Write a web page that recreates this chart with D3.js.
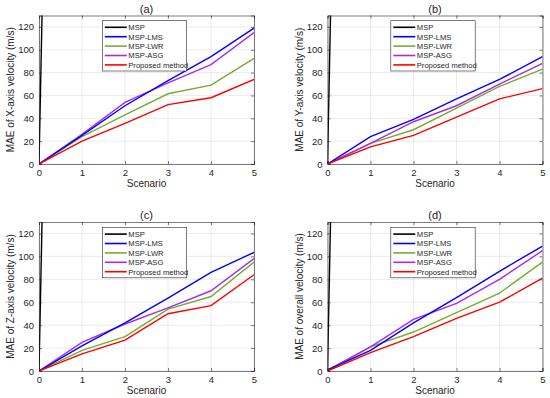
<!DOCTYPE html>
<html>
<head>
<meta charset="utf-8">
<script src="https://cdn.jsdelivr.net/npm/d3@7"></script>
<style>
  body { margin: 0; background: #fff; }
  text { font-family: "Liberation Sans", Arial, sans-serif; fill: #262626; }
</style>
</head>
<body>
<script>
// chart values
const scenarios = [0, 1, 2, 3, 4, 5]
const methods = ["MSP", "MSP-LMS", "MSP-LWR", "MSP-ASG", "Proposed method"]
const colors = ["#000000", "#0000ff", "#77ac30", "#a62cf0", "#ff0000"]
const yTicks = [0, 20, 40, 60, 80, 100, 120]
const titles = ["(a)", "(b)", "(c)", "(d)"]
const yLabels = [
    "MAE of X-axis velocity (m/s)",
    "MAE of Y-axis velocity (m/s)",
    "MAE of Z-axis velocity (m/s)",
    "MAE of overall velocity (m/s)"
]

// MSP shoots off the top right after scenario 0
const mspX = [0, 1850, 3700, 5500, 7400, 9200]
const lmsX = [0, 25, 51, 73, 94, 119]
const lwrX = [0, 24, 43, 61.5, 69, 92.5]
const asgX = [0, 26, 54, 71, 87, 115]
const propX = [0, 20, 35.5, 52, 58, 74]

const mspY = [0, 1850, 3700, 5500, 7400, 9200]
const lmsY = [0, 24, 39, 57, 74, 94]
const lwrY = [0, 18, 30, 49, 68, 83]
const asgY = [0, 18, 37, 51, 70, 88]
const propY = [0, 15, 25, 41, 57, 66]

const mspZ = [0, 1850, 3700, 5500, 7400, 9200]
const lmsZ = [0, 22, 42, 63.5, 86, 103.5]
const lwrZ = [0, 18, 30, 54, 65, 95]
const asgZ = [0, 25, 41, 55, 70, 98]
const propZ = [0, 15, 27, 50, 57, 84]

const mspO = [1, 1850, 3700, 5500, 7400, 9200]
const lmsO = [1, 18, 42, 64, 87, 109]
const lwrO = [0.5, 21, 34, 51, 68, 95]
const asgO = [0.5, 21, 45, 59, 80, 105]
const propO = [0, 16, 30, 46, 60, 81]

const panelsData = [
    [mspX, lmsX, lwrX, asgX, propX],
    [mspY, lmsY, lwrY, asgY, propY],
    [mspZ, lmsZ, lwrZ, asgZ, propZ],
    [mspO, lmsO, lwrO, asgO, propO]
]

// layout
const boxes = [
    {x: 39, y: 15.5, w: 215, h: 148.5, legX: 102.3, legY: 20.7},
    {x: 327.5, y: 15.5, w: 215, h: 148.5, legX: 390.8, legY: 20.7},
    {x: 39, y: 222, w: 215, h: 149, legX: 102.3, legY: 227.5},
    {x: 327.5, y: 222, w: 215, h: 149, legX: 390.8, legY: 227.5}
]

const svg = d3.select("body").append("svg")
    .attr("width", 550)
    .attr("height", 398)

boxes.forEach((b, i) => {
    const g = svg.append("g").attr("transform", `translate(${b.x},${b.y})`)

    const x = d3.scaleLinear().domain([0, 5]).range([0, b.w])
    const y = d3.scaleLinear().domain([0, 130]).range([b.h, 0])

    g.append("rect")
        .attr("width", b.w).attr("height", b.h)
        .attr("fill", "#fff")

    // grid
    g.append("g").selectAll("line").data(scenarios).enter().append("line")
        .attr("x1", d => x(d)).attr("x2", d => x(d))
        .attr("y1", 0).attr("y2", b.h)
        .attr("stroke", "#e3e3e3").attr("stroke-width", 0.7)
    g.append("g").selectAll("line").data(yTicks).enter().append("line")
        .attr("x1", 0).attr("x2", b.w)
        .attr("y1", d => y(d)).attr("y2", d => y(d))
        .attr("stroke", "#e3e3e3").attr("stroke-width", 0.7)

    const clipId = "clip" + i
    g.append("clipPath").attr("id", clipId)
        .append("rect").attr("width", b.w).attr("height", b.h)

    const line = d3.line()
        .x((d, k) => x(scenarios[k]))
        .y(d => y(d))

    // draw MSP first, proposed on top
    const series = panelsData[i]
    const order = [0, 2, 3, 1, 4]
    g.append("g").attr("clip-path", `url(#${clipId})`)
        .selectAll("path").data(order).enter().append("path")
        .attr("d", k => line(series[k]))
        .attr("fill", "none")
        .attr("stroke", k => colors[k])
        .attr("stroke-width", 1.4)

    // axes
    const xAxis = d3.axisBottom(x).tickValues(scenarios).tickFormat(d3.format("d")).tickSize(-3).tickPadding(5)
    const yAxis = d3.axisLeft(y).tickValues(yTicks).tickFormat(d3.format("d")).tickSize(-3).tickPadding(5)
    const xTop = d3.axisTop(x).tickValues(scenarios).tickSize(-3).tickFormat("")
    const yRight = d3.axisRight(y).tickValues(yTicks).tickSize(-3).tickFormat("")

    const styleAxis = sel => {
        sel.selectAll("path").attr("stroke", "#262626").attr("stroke-width", 0.6)
        sel.selectAll("line").attr("stroke", "#262626").attr("stroke-width", 0.6)
        sel.selectAll("text").style("font-size", "9.5px")
            .style("font-family", "Liberation Sans, Arial, sans-serif").attr("fill", "#262626")
    }
    g.append("g").attr("transform", `translate(0,${b.h})`).call(xAxis).call(styleAxis)
    g.append("g").call(yAxis).call(styleAxis)
    g.append("g").call(xTop).call(styleAxis)
    g.append("g").attr("transform", `translate(${b.w},0)`).call(yRight).call(styleAxis)

    // title and labels
    g.append("text")
        .attr("x", b.w / 2).attr("y", -3)
        .attr("text-anchor", "middle")
        .style("font-size", "11px")
        .text(titles[i])
    g.append("text")
        .attr("x", b.w / 2).attr("y", b.h + 23)
        .attr("text-anchor", "middle")
        .style("font-size", "10px")
        .text("Scenario")
    g.append("text")
        .attr("transform", `translate(-25,${b.h / 2}) rotate(-90)`)
        .attr("text-anchor", "middle")
        .style("font-size", "10px")
        .text(yLabels[i])

    // legend
    const lg = svg.append("g").attr("transform", `translate(${b.legX},${b.legY})`)
    lg.append("rect")
        .attr("width", 84.4).attr("height", 50.3)
        .attr("fill", "#fff").attr("stroke", "#262626").attr("stroke-width", 0.6)
    const items = lg.selectAll("g.item").data(methods).enter().append("g")
        .attr("transform", (d, k) => `translate(0,${6.6 + k * 9.4})`)
    items.append("line")
        .attr("x1", 2.5).attr("x2", 24.5)
        .attr("stroke", (d, k) => colors[k])
        .attr("stroke-width", 1.6)
    items.append("text")
        .attr("x", 26).attr("y", 2.8)
        .style("font-size", "7.6px")
        .text(d => d)
})
</script>
</body>
</html>
